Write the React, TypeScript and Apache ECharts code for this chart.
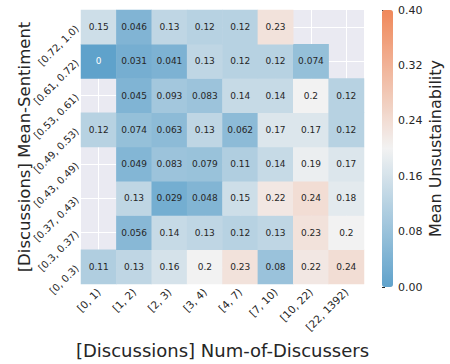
import React, { useEffect, useRef } from "react";
import * as echarts from "echarts";

const xCategories = ["[0, 1)", "[1, 2)", "[2, 3)", "[3, 4)", "[4, 7)", "[7, 10)", "[10, 22)", "[22, 1392)"];
// bottom to top
const yCategories = ["[0, 0.3)", "[0.3, 0.37)", "[0.37, 0.43)", "[0.43, 0.49)", "[0.49, 0.53)", "[0.53, 0.61)", "[0.61, 0.72)", "[0.72, 1.0)"];

// rows listed bottom to top, null = empty cell
const row0: (number | null)[] = [0.11, 0.13, 0.16, 0.2, 0.23, 0.08, 0.22, 0.24];
const row1: (number | null)[] = [null, 0.056, 0.14, 0.13, 0.12, 0.13, 0.23, 0.2];
const row2: (number | null)[] = [null, 0.13, 0.029, 0.048, 0.15, 0.22, 0.24, 0.18];
const row3: (number | null)[] = [null, 0.049, 0.083, 0.079, 0.11, 0.14, 0.19, 0.17];
const row4: (number | null)[] = [0.12, 0.074, 0.063, 0.13, 0.062, 0.17, 0.17, 0.12];
const row5: (number | null)[] = [null, 0.045, 0.093, 0.083, 0.14, 0.14, 0.2, 0.12];
const row6: (number | null)[] = [0, 0.031, 0.041, 0.13, 0.12, 0.12, 0.074, null];
const row7: (number | null)[] = [0.15, 0.046, 0.13, 0.12, 0.12, 0.23, null, null];

const rows = [row0, row1, row2, row3, row4, row5, row6, row7];

const colorTicks = [0, 0.08, 0.16, 0.24, 0.32, 0.4];

export default function App() {
  const ref = useRef<HTMLDivElement>(null);
  useEffect(() => {
    if (!ref.current) return;
    const chart = echarts.init(ref.current, null, { renderer: "svg" });
    const data: any[] = [];
    rows.forEach((r, yi) => {
      r.forEach((v, xi) => {
        if (v !== null) data.push([xi, yi, v]);
      });
    });
    const font = "DejaVu Sans";
    const textColor = "#262626";
    chart.setOption({
      animation: false,
      textStyle: { fontFamily: font },
      grid: [
        {
          left: 81, top: 10, width: 283, height: 277,
          show: true, backgroundColor: "#EAEAF2", borderWidth: 0,
        },
        { left: 382, top: 10, width: 11, height: 277, show: false },
      ],
      xAxis: [
        {
          type: "category",
          gridIndex: 0,
          data: xCategories,
          axisLine: { show: false },
          axisTick: { show: false },
          axisLabel: { rotate: 45, fontSize: 10.5, color: textColor, margin: 6, fontFamily: font },
          splitLine: { show: true, alignWithLabel: true, lineStyle: { color: "#ffffff", width: 1 } },
          name: "[Discussions] Num-of-Discussers",
          nameLocation: "middle",
          nameGap: 57,
          nameMoveOverlap: false,
          nameTextStyle: { fontSize: 18, color: textColor, fontFamily: font },
        },
        { type: "value", gridIndex: 1, show: false },
      ],
      yAxis: [
        {
          type: "category",
          gridIndex: 0,
          data: yCategories,
          axisLine: { show: false },
          axisTick: { show: false },
          axisLabel: { rotate: 45, fontSize: 10, color: textColor, margin: 4, fontFamily: font },
          splitLine: { show: true, alignWithLabel: true, lineStyle: { color: "#ffffff", width: 1 } },
          name: "[Discussions] Mean-Sentiment",
          nameLocation: "middle",
          nameRotate: 90,
          nameGap: 48,
          nameMoveOverlap: false,
          nameTextStyle: { fontSize: 16.5, color: textColor, fontFamily: font },
        },
        {
          type: "value",
          gridIndex: 1,
          position: "right",
          min: 0,
          max: 0.4,
          interval: 0.08,
          axisLine: { show: false },
          axisTick: { show: true, length: 3, lineStyle: { color: textColor } },
          splitLine: { show: false },
          axisLabel: {
            fontSize: 11, color: textColor, margin: 5, fontFamily: font,
            formatter: (v: number) => v.toFixed(2),
          },
          name: "Mean Unsustainability",
          nameLocation: "middle",
          nameRotate: 90,
          nameGap: 34,
          nameMoveOverlap: false,
          nameTextStyle: { fontSize: 16, color: textColor, fontFamily: font },
        },
      ],
      visualMap: {
        type: "continuous",
        min: colorTicks[0],
        max: colorTicks[colorTicks.length - 1],
        seriesIndex: 0,
        left: 382,
        top: 10,
        itemWidth: 11,
        itemHeight: 277,
        padding: 0,
        calculable: false,
        text: null,
        showLabel: false,
        inRange: { color: ["#5fa2cb", "#f2f2f2", "#f0885a"] },
      },
      series: [
        {
          type: "heatmap",
          xAxisIndex: 0,
          yAxisIndex: 0,
          data: data.map((d) =>
            d[2] < 0.02
              ? { value: d, label: { color: "#ffffff" } }
              : { value: d }
          ),
          itemStyle: { borderWidth: 0 },
          label: {
            show: true,
            fontSize: 9,
            fontFamily: font,
            formatter: (p: any) => String(p.value[2]),
            color: textColor,
          },
          emphasis: { disabled: true },
        },
      ],
    });
    return () => chart.dispose();
  }, []);
  return <div ref={ref} style={{ width: 450, height: 364, position: "absolute", left: 0, top: 0 }} />;
}
